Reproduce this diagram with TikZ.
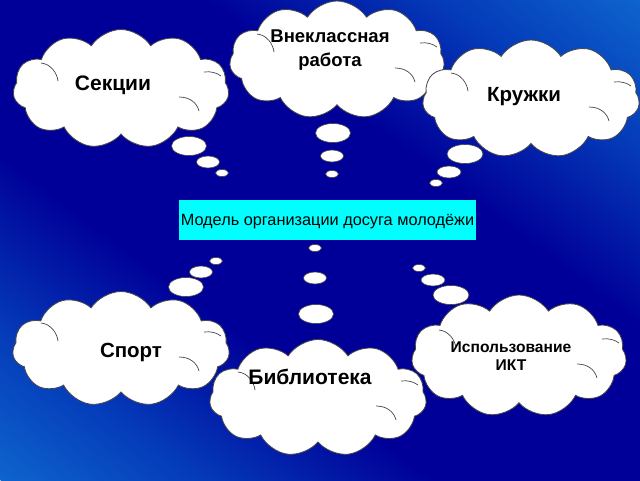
\documentclass[tikz,border=0pt]{standalone}
\usepackage{fontspec}
\setmainfont{Liberation Sans}
\usetikzlibrary{shapes.symbols,shapes.geometric,calc}
\definecolor{lightb}{RGB}{14,100,206}
\definecolor{midb}{RGB}{4,58,184}
\definecolor{darkb}{RGB}{0,0,152}
\definecolor{boxcyan}{RGB}{0,255,255}
\definecolor{edgegray}{RGB}{70,70,70}
\pgfdeclareverticalshading{bgsh}{100bp}{color(0bp)=(lightb); color(25bp)=(lightb); color(33bp)=(midb); color(42bp)=(darkb); color(58bp)=(darkb); color(67bp)=(midb); color(75bp)=(lightb); color(100bp)=(lightb)}
\tikzset{
  thought/.style={cloud, cloud puffs=11, cloud puff arc=115, cloud ignores aspect,
    draw=edgegray, line width=0.8pt, fill=white, inner sep=0pt},
  bubble/.style={ellipse, draw=edgegray, line width=0.6pt, fill=white, inner sep=0pt},
  cloudtext/.style={text=black, align=center, inner sep=0pt},
  innerarc/.style={draw=edgegray, line width=0.7pt},
}
\newcommand{\cloudarcs}[1]{%
  \draw[innerarc] ($(#1.center)+(-80,-26)$) .. controls ($(#1.center)+(-70,-25)$) and ($(#1.center)+(-64,-16)$) .. ($(#1.center)+(-63,-8)$);
  \draw[innerarc] ($(#1.center)+(83,-17)$) .. controls ($(#1.center)+(90,-18)$) and ($(#1.center)+(96,-16)$) .. ($(#1.center)+(100,-13)$);
  \draw[innerarc] ($(#1.center)+(58,8)$) .. controls ($(#1.center)+(69,8)$) and ($(#1.center)+(76,14)$) .. ($(#1.center)+(78,22)$);
}
\begin{document}
\begin{tikzpicture}[x=1pt,y=-1pt]
\useasboundingbox (0,0) rectangle (640,480);
\begin{scope}
  \clip (0,0) rectangle (640,480);
  \begin{scope}[transform canvas={shift={(320,240)}, rotate=-36.87}]
    \shade[shading=bgsh] (-420,-384) rectangle (420,384);
  \end{scope}
\end{scope}

% top clouds
\node[thought, minimum width=216pt, minimum height=119pt] (csek) at (121,89) {};
\cloudarcs{csek}
\node[thought, minimum width=215pt, minimum height=118pt] (cvne) at (337,60) {};
\cloudarcs{cvne}
\node[thought, minimum width=217pt, minimum height=118pt] (ckru) at (531,99) {};
\cloudarcs{ckru}

\node[cloudtext, font=\fontsize{21}{24}\selectfont\bfseries] (tsek) at (113,85) {Секции};
\node[cloudtext, font=\fontsize{18.5}{24.5}\selectfont\bfseries] (tvne) at (330,50) {Внеклассная\\работа};
\node[cloudtext, font=\fontsize{20.5}{24}\selectfont\bfseries] (tkru) at (524,97) {Кружки};

% bubbles top
\node[bubble, minimum width=35pt, minimum height=19pt] (b1a) at (189,146) {};
\node[bubble, minimum width=23pt, minimum height=12pt] (b1b) at (208,162) {};
\node[bubble, minimum width=13pt, minimum height=7pt] (b1c) at (222,173) {};

\node[bubble, minimum width=35pt, minimum height=19pt] (b2a) at (333,133) {};
\node[bubble, minimum width=23pt, minimum height=12pt] (b2b) at (332,156) {};
\node[bubble, minimum width=13pt, minimum height=7pt] (b2c) at (332,174) {};

\node[bubble, minimum width=36pt, minimum height=19pt] (b3a) at (465,154) {};
\node[bubble, minimum width=24pt, minimum height=12pt] (b3b) at (449,172) {};
\node[bubble, minimum width=13pt, minimum height=7pt] (b3c) at (436,183) {};

% central box
\node[fill=boxcyan, minimum width=297pt, minimum height=40pt, inner sep=0pt] (model) at (327.5,220) {};
\node[font=\fontsize{16.3}{18}\selectfont, text=black, inner sep=0pt] (tmodel) at (327.5,222) {Модель организации досуга молодёжи};

% bubbles bottom
\node[bubble, minimum width=13pt, minimum height=7pt] (b4c) at (216,261) {};
\node[bubble, minimum width=23pt, minimum height=12pt] (b4b) at (201,272) {};
\node[bubble, minimum width=35pt, minimum height=19pt] (b4a) at (186,287) {};

\node[bubble, minimum width=13pt, minimum height=7pt] (b5c) at (315,248) {};
\node[bubble, minimum width=23pt, minimum height=12pt] (b5b) at (315,278) {};
\node[bubble, minimum width=35pt, minimum height=19pt] (b5a) at (316,314) {};

\node[bubble, minimum width=13pt, minimum height=7pt] (b6c) at (419,268) {};
\node[bubble, minimum width=24pt, minimum height=12pt] (b6b) at (433,280) {};
\node[bubble, minimum width=36pt, minimum height=19pt] (b6a) at (451,295) {};

% bottom clouds
\node[thought, minimum width=217pt, minimum height=115pt] (cspo) at (121,349) {};
\cloudarcs{cspo}
\node[thought, minimum width=215pt, minimum height=122pt] (cikt) at (519,356) {};
\cloudarcs{cikt}
\node[thought, minimum width=217pt, minimum height=117pt] (cbib) at (318,398) {};
\cloudarcs{cbib}

\node[cloudtext, font=\fontsize{20.5}{24}\selectfont\bfseries] (tspo) at (131,352) {Спорт};
\node[cloudtext, font=\fontsize{15.6}{18.5}\selectfont\bfseries] (tikt) at (511,356) {Использование\\ИКТ};
\node[cloudtext, font=\fontsize{21}{24}\selectfont\bfseries] (tbib) at (310,377) {Библиотека};
\end{tikzpicture}
\end{document}
